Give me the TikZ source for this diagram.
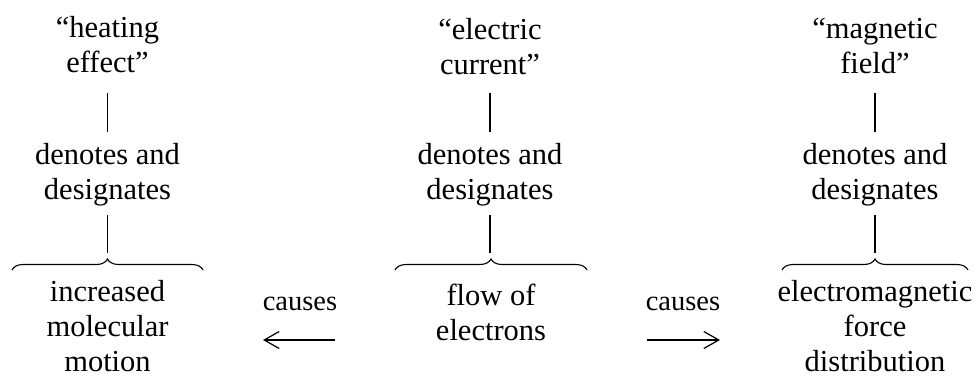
\documentclass[tikz,border=0pt]{standalone}
\usepackage{fontspec}
\setmainfont{Liberation Serif}
\usetikzlibrary{decorations.pathreplacing,arrows.meta}
\begin{document}
\begin{tikzpicture}[x=1pt,y=-1pt,
  txt/.style={inner sep=0pt,align=center,font=\fontsize{30.5}{35}\selectfont,anchor=base},
  cause/.style={inner sep=0pt,font=\fontsize{28.5}{34}\selectfont,anchor=base},
  bar/.style={line width=1.3pt},
  brc/.style={line width=1.1pt,decorate,decoration={brace,amplitude=11pt}},
  arr/.style={line width=1.2pt,-{Straight Barb[length=15pt,width=17pt,line width=1.2pt]}}]
\useasboundingbox (0,0) rectangle (975,376);
% left column (anchor base = last line)
\node[txt] (heat) at (107.5,72) {“heating\\effect”};
\node[txt] (dl) at (107.5,199) {denotes and\\designates};
\node[txt] (incr) at (107.5,371) {increased\\molecular\\motion};
% centre column
\node[txt] (elec) at (490,74) {“electric\\current”};
\node[txt] (dc) at (490,199) {denotes and\\designates};
\node[txt] (flow) at (491,340) {flow of\\electrons};
% right column
\node[txt] (magn) at (875,73) {“magnetic\\field”};
\node[txt] (dr) at (875,199) {denotes and\\designates};
\node[txt] (emf) at (875,371) {electromagnetic\\force\\distribution};
% bars
\coordinate (l1a) at (107.5,93); \coordinate (l1b) at (107.5,132);
\coordinate (l2a) at (107.5,215); \coordinate (l2b) at (107.5,253);
\coordinate (c1a) at (490,93); \coordinate (c1b) at (490,132);
\coordinate (c2a) at (490,215); \coordinate (c2b) at (490,253);
\coordinate (r1a) at (875,93); \coordinate (r1b) at (875,132);
\coordinate (r2a) at (875,215); \coordinate (r2b) at (875,253);
\foreach \a/\b in {l1a/l1b,l2a/l2b,c1a/c1b,c2a/c2b,r1a/r1b,r2a/r2b}
  \draw[bar] (\a) -- (\b);
% braces
\coordinate (lbl) at (12,270); \coordinate (lbr) at (203,270);
\coordinate (cbl) at (395,270); \coordinate (cbr) at (587,270);
\coordinate (rbl) at (782,270); \coordinate (rbr) at (968,270);
\draw[brc] (lbl) -- (lbr);
\draw[brc] (cbl) -- (cbr);
\draw[brc] (rbl) -- (rbr);
% causes
\node[cause] (cl) at (300,310) {causes};
\node[cause] (cr) at (683,310) {causes};
\coordinate (las) at (335,340); \coordinate (lae) at (263,340);
\coordinate (ras) at (647,340); \coordinate (rae) at (720,340);
\draw[arr] (las) -- (lae);
\draw[arr] (ras) -- (rae);
\end{tikzpicture}
\end{document}
